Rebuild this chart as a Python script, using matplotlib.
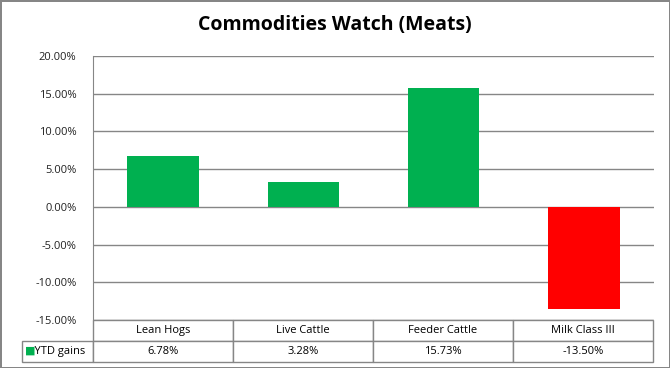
import matplotlib
matplotlib.use("Agg")
import matplotlib.pyplot as plt
from matplotlib.table import Table
from matplotlib.ticker import FuncFormatter

categories = ["Lean Hogs", "Live Cattle", "Feeder Cattle", "Milk Class III"]
ytd_gains = [6.78, 3.28, 15.73, -13.50]
series_name = "YTD gains"
y_ticks = [-15, -10, -5, 0, 5, 10, 15, 20]

plt.rcParams['font.family'] = ['Open Sans', 'DejaVu Sans']

fig = plt.figure(figsize=(6.7, 3.68), dpi=100)
fig.patch.set_edgecolor('#868686')
fig.patch.set_linewidth(2)
ax = fig.add_axes([93 / 670, 1 - 320 / 368, 561 / 670, 264 / 368])

colors = ['#00B050' if v >= 0 else '#FF0000' for v in ytd_gains]
x = range(len(categories))
ax.bar(x, ytd_gains, width=0.51, color=colors, zorder=3)

ax.set_xlim(-0.5, len(categories) - 0.5)
ax.set_ylim(-15, 20)
ax.set_yticks(y_ticks)
ax.yaxis.set_major_formatter(FuncFormatter(lambda v, p: f"{v:.2f}%"))
ax.tick_params(axis='y', length=0, pad=12, labelsize=8, labelcolor='#222222')
ax.set_xticks([])
ax.grid(axis='y', color='#868686', linewidth=1, zorder=0)
for s in ['top', 'right', 'bottom']:
    ax.spines[s].set_visible(False)
ax.spines['left'].set_color('#868686')

fig.text(0.5, 1 - 25 / 368, "Commodities Watch (Meats)", ha='center', va='center',
         fontsize=14, fontweight='bold')

# data table below the plot
label_w, col_w = 71, 140
total_w = label_w + col_w * len(categories)
tbl = Table(ax, bbox=[-label_w / 561, -42 / 264, total_w / 561, 42 / 264])
row_h = 0.5
c = tbl.add_cell(0, 0, label_w / total_w, row_h, text='')
c.visible_edges = ''
for j, name in enumerate(categories):
    tbl.add_cell(0, j + 1, col_w / total_w, row_h, text=name, loc='center')
tbl.add_cell(1, 0, label_w / total_w, row_h, text="    " + series_name, loc='left')
for j, v in enumerate(ytd_gains):
    tbl.add_cell(1, j + 1, col_w / total_w, row_h, text=f"{v:.2f}%", loc='center')
for cell in tbl.get_celld().values():
    cell.set_edgecolor('#868686')
    cell.set_linewidth(1)
    cell.get_text().set_fontsize(8)
    cell.PAD = 0.02
tbl.auto_set_font_size(False)
tbl.set_fontsize(8)
tbl.set_clip_on(False)
ax.add_table(tbl)

fig.text(25 / 670, 1 - 351 / 368, "\u25A0", color='#00B050', ha='left', va='center', fontsize=8)

fig.savefig("out.png", dpi=100)
